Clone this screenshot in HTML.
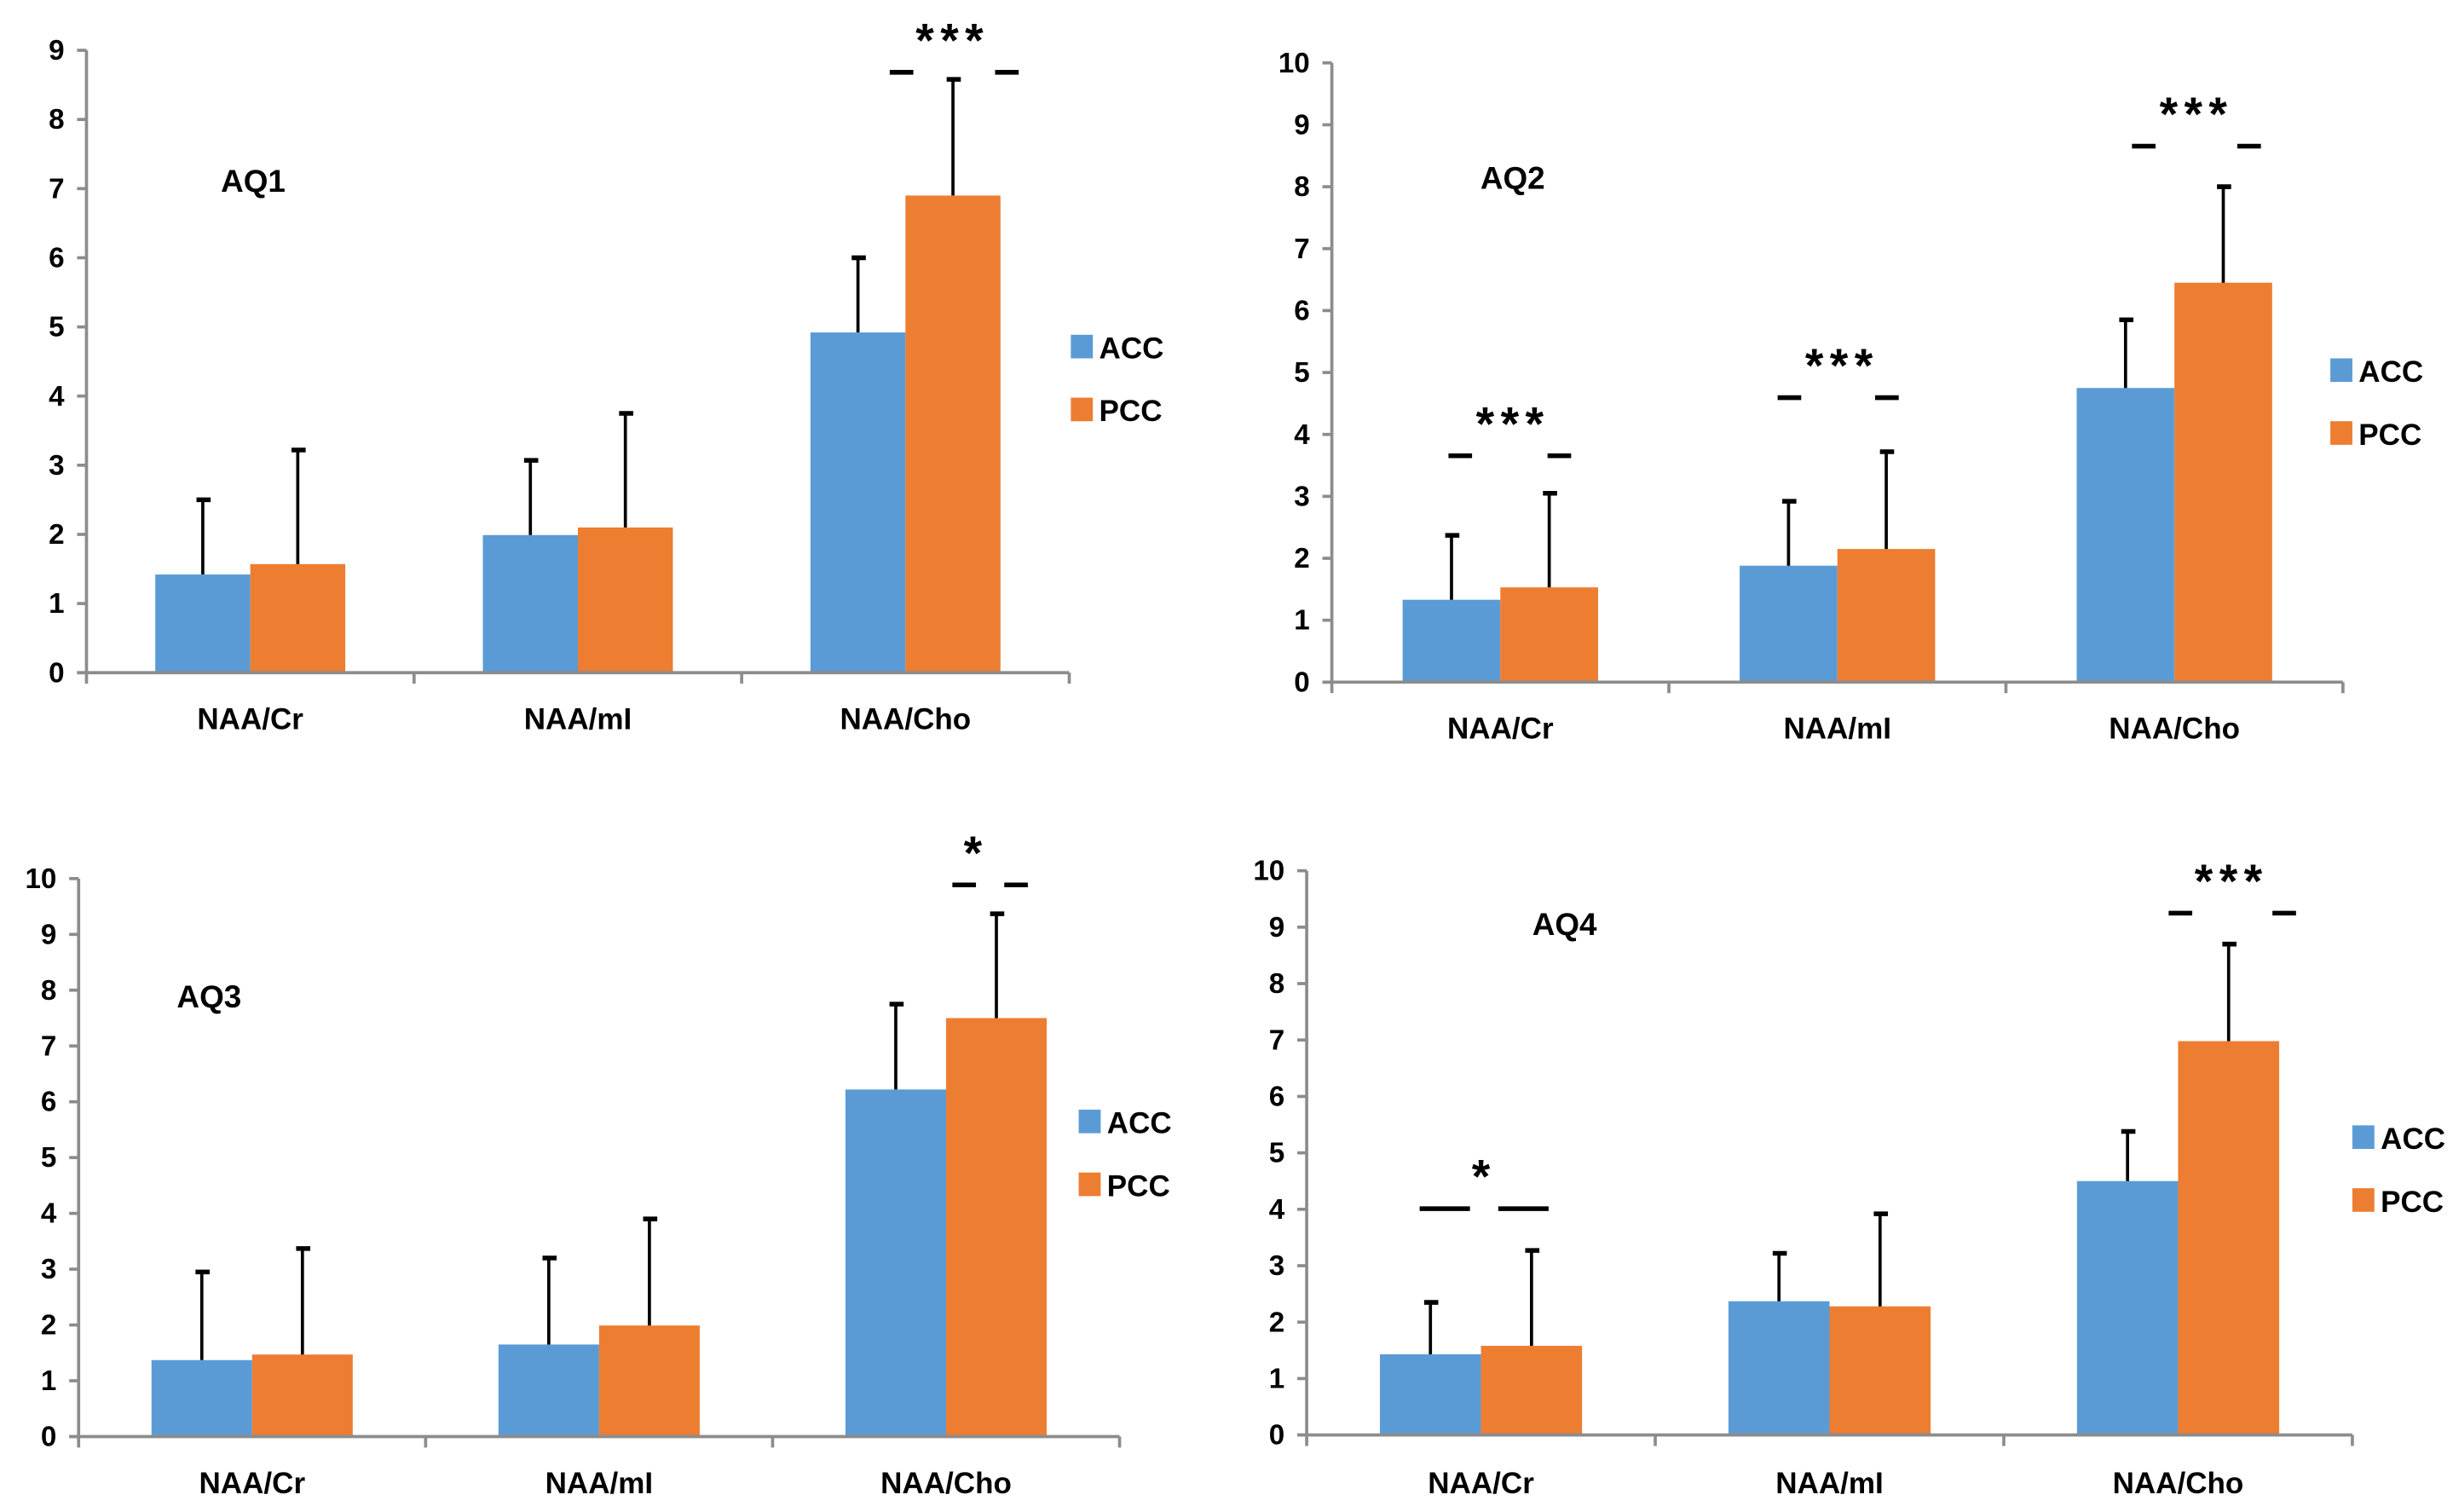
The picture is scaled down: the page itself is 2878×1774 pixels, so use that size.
<!DOCTYPE html>
<html><head><meta charset="utf-8"><style>
html,body{margin:0;padding:0;background:#fff;}
svg{display:block;}
text{font-family:"Liberation Sans Narrow","Liberation Sans",sans-serif;font-weight:bold;fill:#000;}
</style></head>
<body>
<svg id="fig" width="2878" height="1774" viewBox="0 0 1560 962" preserveAspectRatio="none" xmlns="http://www.w3.org/2000/svg"></svg>
<script>
const categories = ["NAA/Cr", "NAA/mI", "NAA/Cho"];
const seriesNames = ["ACC", "PCC"];
const aq1Acc = [1.42, 1.99, 4.92];
const aq1Pcc = [1.57, 2.10, 6.90];
const aq1AccErr = [2.50, 3.07, 6.00];
const aq1PccErr = [3.22, 3.75, 8.58];
const aq2Acc = [1.33, 1.88, 4.75];
const aq2Pcc = [1.53, 2.15, 6.45];
const aq2AccErr = [2.37, 2.92, 5.85];
const aq2PccErr = [3.05, 3.72, 8.00];
const aq3Acc = [1.37, 1.65, 6.22];
const aq3Pcc = [1.47, 1.99, 7.50];
const aq3AccErr = [2.95, 3.20, 7.75];
const aq3PccErr = [3.37, 3.90, 9.37];
const aq4Acc = [1.43, 2.37, 4.50];
const aq4Pcc = [1.58, 2.28, 6.98];
const aq4AccErr = [2.35, 3.22, 5.38];
const aq4PccErr = [3.27, 3.92, 8.70];
const aq1Ticks = [0,1,2,3,4,5,6,7,8,9];
const tenTicks = [0,1,2,3,4,5,6,7,8,9,10];

const NS = "http://www.w3.org/2000/svg";
const svg = document.getElementById("fig");
function mk(tag, attrs, parent, txt){
  const e = document.createElementNS(NS, tag);
  for (const k in attrs) e.setAttribute(k, attrs[k]);
  if (txt !== undefined) e.textContent = txt;
  (parent || svg).appendChild(e);
  return e;
}

const panels = [
  {id:"aq1", title:"AQ1", x0:55, x1:680, y0:428, ymax:9, ytop:32, ticks:aq1Ticks,
   acc:aq1Acc, pcc:aq1Pcc, accE:aq1AccErr, pccE:aq1PccErr, tx:161, ty:122, lx:681, ly:221, catY:464,
   sig:[{g:2, label:"***", dashY:46, starX:30, d1:[-10,5], d2:[57,72]}]},
  {id:"aq2", title:"AQ2", x0:847, x1:1490, y0:434, ymax:10, ytop:40, ticks:tenTicks,
   acc:aq2Acc, pcc:aq2Pcc, accE:aq2AccErr, pccE:aq2PccErr, tx:962, ty:120, lx:1482, ly:236, catY:470,
   sig:[{g:0, label:"***", dashY:290, starX:8, d1:[-33,-18], d2:[30,45]},
        {g:1, label:"***", dashY:253, starX:3, d1:[-38,-23], d2:[24,39]},
        {g:2, label:"***", dashY:93, starX:14, d1:[-27,-12], d2:[40,55]}]},
  {id:"aq3", title:"AQ3", x0:50, x1:712, y0:914, ymax:10, ytop:559, ticks:tenTicks,
   acc:aq3Acc, pcc:aq3Pcc, accE:aq3AccErr, pccE:aq3PccErr, tx:133, ty:641, lx:686, ly:714, catY:950,
   sig:[{g:2, label:"*", dashY:563, starX:19, d1:[4,19], d2:[37,52]}]},
  {id:"aq4", title:"AQ4", x0:831, x1:1496, y0:913, ymax:10, ytop:554, ticks:tenTicks,
   acc:aq4Acc, pcc:aq4Pcc, accE:aq4AccErr, pccE:aq4PccErr, tx:995, ty:595, lx:1496, ly:724, catY:950,
   sig:[{g:0, label:"*", dashY:769, starX:2, d1:[-39,-7], d2:[11,43]},
        {g:2, label:"***", dashY:581, starX:34, d1:[-6,9], d2:[60,75]}]}
];

panels.forEach(p => {
  const g = mk("g", {});
  
  
  const unit = (p.y0 - p.ytop) / p.ymax;
  const yS = v => p.y0 - v * unit;
  const cw = (p.x1 - p.x0) / categories.length;
  const cx = i => p.x0 + cw * (i + 0.5);
  const bw = cw * 0.29;

  categories.forEach((c, i) => {
    const bA = mk("rect", {x:cx(i)-bw, y:yS(p.acc[i]), width:bw, height:p.y0-yS(p.acc[i]), fill:"#5b9bd5"}, g);
    
    
    const bP = mk("rect", {x:cx(i), y:yS(p.pcc[i]), width:bw, height:p.y0-yS(p.pcc[i]), fill:"#ed7d31"}, g);
    
    
    [[cx(i)-bw/2, p.acc[i], p.accE[i], 'acc'], [cx(i)+bw/2, p.pcc[i], p.pccE[i], 'pcc']].forEach(e => {
      const eg = mk("g", {stroke:"#000", "stroke-width":2}, g);
      
      
      mk("line", {x1:e[0], x2:e[0], y1:yS(e[1]), y2:yS(e[2])}, eg);
      mk("line", {x1:e[0]-4, x2:e[0]+5, y1:yS(e[2]), y2:yS(e[2]), "stroke-width":3}, eg);
    });
    const cl = mk("text", {x:cx(i), y:p.catY, "text-anchor":"middle", "font-size":19}, g, c);
    
    
  });

  const ax = mk("g", {stroke:"#8c8c8c", "stroke-width":2}, g);
  
  
  mk("line", {x1:p.x0, x2:p.x0, y1:p.ytop, y2:p.y0}, ax);
  mk("line", {x1:p.x0-6, x2:p.x1, y1:p.y0, y2:p.y0}, ax);
  for (let i = 0; i <= categories.length; i++) {
    const x = p.x0 + cw * i;
    mk("line", {x1:x, x2:x, y1:p.y0, y2:p.y0+7}, ax);
  }
  p.ticks.forEach(t => {
    mk("line", {x1:p.x0-6, x2:p.x0, y1:yS(t), y2:yS(t)}, ax);
    const tl = mk("text", {x:p.x0-14, y:yS(t)+6, "text-anchor":"end", "font-size":18}, g, String(t));
    
    
  });

  const tt = mk("text", {x:p.tx, y:p.ty, "text-anchor":"middle", "font-size":20}, g, p.title);
  
  

  const colors = ["#5b9bd5", "#ed7d31"];
  seriesNames.forEach((s, k) => {
    const lg = mk("g", {}, g);
    
    
    mk("rect", {x:p.lx, y:p.ly + k*40 - 8, width:14, height:15, fill:colors[k]}, lg);
    mk("text", {x:p.lx+18, y:p.ly + k*40 + 7, "font-size":19}, lg, s);
  });

  p.sig.forEach(s => {
    const c = cx(s.g);
    const sg = mk("g", {}, g);
    
    
    mk("line", {x1:c+s.d1[0], x2:c+s.d1[1], y1:s.dashY, y2:s.dashY, stroke:"#000", "stroke-width":3}, sg);
    mk("line", {x1:c+s.d2[0], x2:c+s.d2[1], y1:s.dashY, y2:s.dashY, stroke:"#000", "stroke-width":3}, sg);
    mk("text", {x:c+s.starX, y:s.dashY-10, "text-anchor":"middle", "font-size":30, "letter-spacing":4}, sg, s.label);
  });
});
</script>
</body></html>
